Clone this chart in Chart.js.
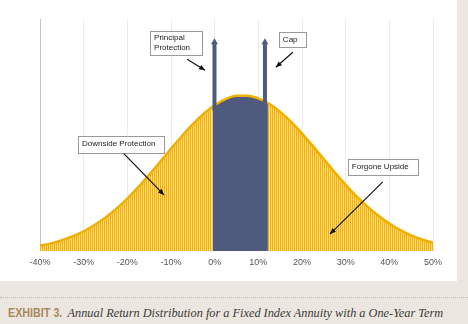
<!DOCTYPE html>
<html>
<head>
<meta charset="utf-8">
<script src="https://cdn.jsdelivr.net/npm/chart.js@4.4.1/dist/chart.umd.min.js"></script>
<style>
body{margin:0;width:468px;height:324px;background:#ebe7e0;position:relative;overflow:hidden;font-family:"Liberation Sans",Arial,sans-serif;}
.panel{position:absolute;left:0;top:0;width:457px;height:281px;background:#fff;}
.dots{position:absolute;left:0;top:297px;width:468px;border-top:1px dotted #c2b7a6;}
.caption{position:absolute;left:8px;top:304px;white-space:nowrap;font-size:12px;line-height:18px;color:#3b3835;}
.caption b{display:inline-block;transform:scaleX(0.86);transform-origin:left center;margin-right:-7px;font-family:"Liberation Sans",sans-serif;color:#a8895c;font-size:12.5px;font-weight:bold;}
.caption i{font-family:"Liberation Serif","DejaVu Serif",serif;font-size:12.3px;}
</style>
</head>
<body>
<div class="panel"><canvas id="dist_chart" width="457" height="281"></canvas></div>
<div class="dots"></div>
<div class="caption"><b>EXHIBIT 3.</b> <i>Annual Return Distribution for a Fixed Index Annuity with a One-Year Term</i></div>
<script>
// return (%) and relative frequency
let returns = [-40,-37.5,-35,-32.5,-30,-27.5,-25,-22.5,-20,-17.5,-15,-12.5,-10,-7.5,-5,-2.5,-0.5,0,2.5,5,7.5,10,12.2,12.5,15,17.5,20,22.5,25,27.5,30,32.5,35,37.5,40,42.5,45,47.5,50];
let freq = [3.6,5.0,7.0,9.6,12.8,16.8,21.6,27.3,33.8,41.1,49.0,57.3,65.7,73.9,81.5,88.2,92.7,93.7,97.6,99.7,99.8,98.1,95.1,94.6,89.4,83.0,75.5,67.4,59.0,50.6,42.6,35.2,28.6,22.7,17.7,13.5,10.1,7.5,5.4];
let tickValues = [-40,-30,-20,-10,0,10,20,30,40,50];
let floorReturn = -0.5;   // principal protection edge
let capReturn = 12.2;     // cap edge
let arrowTop = 136.7;

// annotation boxes and pointers, in chart units (x = return %, y = frequency)
let notes = [
    {lines:["Principal","Protection"], box:[-14.8,141.3,-2.9,125.8], arrow:[-6.3,123.2,-2.2,116.1]},
    {lines:["Cap"], box:[14.7,140.6,20.9,130.9], arrow:[17.9,127.7,14.0,118.0]},
    {lines:["Downside Protection"], box:[-31.3,74.2,-11.6,63.2], arrow:[-20.8,62.6,-11.6,36.1]},
    {lines:["Forgone Upside"], box:[30.5,59.3,46.6,49.0], arrow:[38.5,44.5,26.4,11.0]}
];

let blue = "rgb(78,91,125)";

// vertical stripes like the original thin columns
let pc = document.createElement("canvas");
pc.width = 2; pc.height = 1;
let pctx = pc.getContext("2d");
pctx.fillStyle = "#f2b400"; pctx.fillRect(0,0,1,1);
pctx.fillStyle = "#fbdb82"; pctx.fillRect(1,0,1,1);
let stripes = pctx.createPattern(pc, "repeat");

let points = [];
for(let i=0; i<returns.length; i++){
    points.push({x:returns[i], y:freq[i]});
}

function drawHead(c, x1, y1, x2, y2, size, w){
    let a = Math.atan2(y2-y1, x2-x1);
    c.beginPath();
    c.moveTo(x2, y2);
    c.lineTo(x2 - size*Math.cos(a) + w*Math.sin(a), y2 - size*Math.sin(a) - w*Math.cos(a));
    c.lineTo(x2 - size*Math.cos(a) - w*Math.sin(a), y2 - size*Math.sin(a) + w*Math.cos(a));
    c.closePath();
    c.fill();
}

let annotate = {
    id:"annotate",
    afterDatasetsDraw:function(chart){
        let c = chart.ctx;
        let xs = chart.scales.x, ys = chart.scales.y;
        c.save();
        // the two blue pointers at protection floor and cap
        let edges = [xs.getPixelForValue(floorReturn)+2, xs.getPixelForValue(capReturn)-3];
        let top = ys.getPixelForValue(arrowTop);
        c.strokeStyle = blue; c.fillStyle = blue; c.lineWidth = 4;
        for(let e of edges){
            c.beginPath();
            c.moveTo(e, ys.getPixelForValue(90));
            c.lineTo(e, top+5);
            c.stroke();
            drawHead(c, e, top+10, e, top, 6, 3.5);
        }
        // text boxes
        c.font = "8px 'Liberation Sans', Arial, sans-serif";
        c.textBaseline = "middle";
        for(let n of notes){
            let x1 = xs.getPixelForValue(n.box[0]), y1 = ys.getPixelForValue(n.box[1]);
            let x2 = xs.getPixelForValue(n.box[2]), y2 = ys.getPixelForValue(n.box[3]);
            c.fillStyle = "#fff";
            c.fillRect(x1, y1, x2-x1, y2-y1);
            c.strokeStyle = "#9a9a9a"; c.lineWidth = 1;
            c.strokeRect(Math.round(x1)+0.5, Math.round(y1)+0.5, Math.round(x2-x1), Math.round(y2-y1));
            c.fillStyle = "#222";
            let lh = 10;
            let startY = (y1+y2)/2 - (n.lines.length-1)*lh/2;
            for(let k=0; k<n.lines.length; k++){
                c.fillText(n.lines[k], x1+4, startY + k*lh);
            }
            let ax1 = xs.getPixelForValue(n.arrow[0]), ay1 = ys.getPixelForValue(n.arrow[1]);
            let ax2 = xs.getPixelForValue(n.arrow[2]), ay2 = ys.getPixelForValue(n.arrow[3]);
            c.strokeStyle = "#111"; c.lineWidth = 1.2;
            c.beginPath(); c.moveTo(ax1, ay1); c.lineTo(ax2, ay2); c.stroke();
            c.fillStyle = "#111";
            drawHead(c, ax1, ay1, ax2, ay2, 6, 2.6);
        }
        c.restore();
    }
};

let distChart = new Chart(document.getElementById("dist_chart"), {
    type:"line",
    plugins:[annotate],
    data:{
        datasets:[{
            label:"Annual return distribution",
            data:points,
            fill:"origin",
            backgroundColor:stripes,
            borderColor:"#f0b000",
            borderWidth:2.5,
            pointRadius:0,
            cubicInterpolationMode:"monotone",
            segment:{
                backgroundColor:function(ctx){
                    if(ctx.p0.parsed.x >= floorReturn && ctx.p1.parsed.x <= capReturn) return blue;
                    return stripes;
                }
            }
        }]
    },
    options:{
        responsive:false,
        animation:false,
        layout:{padding:{left:40, right:24, top:19, bottom:7}},
        plugins:{legend:{display:false}, tooltip:{enabled:false}},
        scales:{
            x:{
                type:"linear",
                min:-40, max:50,
                afterBuildTicks:function(axis){
                    axis.ticks = tickValues.map(function(v){ return {value:v}; });
                },
                ticks:{
                    padding:6,
                    color:"#555",
                    font:{family:"'Liberation Sans', Arial, sans-serif", size:9},
                    callback:function(v){ return v+"%"; }
                },
                border:{display:false},
                grid:{
                    drawTicks:false,
                    lineWidth:1,
                    color:function(ctx){ return ctx.tick && ctx.tick.value === -40 ? "#c4c4c4" : "#ececec"; }
                }
            },
            y:{display:false, min:0, max:149}
        }
    }
});
</script>
</body>
</html>
